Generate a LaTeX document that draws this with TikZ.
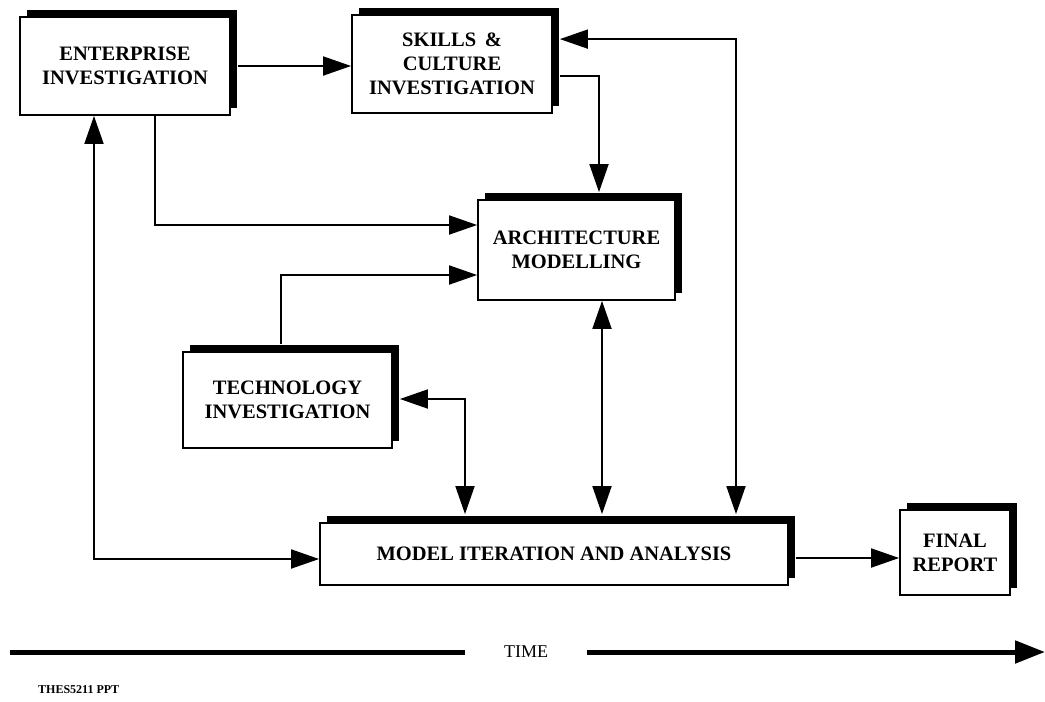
\documentclass[tikz,border=0pt]{standalone}
\usepackage{fontspec}
\setmainfont{Liberation Serif}
\usetikzlibrary{arrows.meta,calc,shadows}
\begin{document}
\begin{tikzpicture}[x=1pt,y=-1pt,
  box/.style={draw, line width=1.8pt, fill=white, align=center, inner sep=0pt,
    font=\bfseries\fontsize{20.5}{24}\selectfont,
    general shadow={fill=black, shadow xshift=7pt, shadow yshift=7pt}},
  head/.tip={Triangle[length=28pt,width=19pt]},
  link/.style={line width=1.8pt, -head},
  dlink/.style={line width=1.8pt, head-head},
  timeline/.style={line width=5pt},
]
\useasboundingbox (0,0) rectangle (1045,702);

% process boxes
\node[box, minimum width=210pt, minimum height=98pt] (ent) at (125,66) {ENTERPRISE\\INVESTIGATION};
\node[box, minimum width=200pt, minimum height=98pt] (skills) at (452,64) {SKILLS \,\&\\CULTURE\\INVESTIGATION};
\node[box, minimum width=197pt, minimum height=100pt] (arch) at (576.5,250) {ARCHITECTURE\\MODELLING};
\node[box, minimum width=209pt, minimum height=96pt] (tech) at (287.5,400) {TECHNOLOGY\\INVESTIGATION};
\node[box, minimum width=468pt, minimum height=62pt] (model) at (554,554) {MODEL ITERATION AND ANALYSIS};
\node[box, minimum width=110pt, minimum height=85pt] (final) at (955,552.5) {FINAL\\REPORT};

% flows between the boxes
\draw[link] ([xshift=7pt]ent.east) -- (skills.west |- ent.east);
\draw[dlink] ($(skills.north east)+(7,25)$) -| ($(model.north)+(182,-8)$);
\draw[link] ($(skills.north east)+(7,62)$) -| ($(arch.north)+(22.5,-7)$);
\draw[link] ($(ent.south)+(30,0)$) |- ($(arch.west)+(0,-25)$);
\draw[link] ($(tech.north)+(-6.5,-7)$) |- ($(arch.west)+(0,25)$);
\draw[dlink] ($(tech.east)+(7,-1)$) -| ($(model.north)+(-89,-8)$);
\draw[dlink] ($(arch.south)+(25.5,0)$) -- ($(model.north)+(48,-8)$);
\draw[dlink] ($(ent.south)+(-31,0)$) |- ($(model.west)+(0,5)$);
\draw[link] ($(model.east)+(7,4)$) -- ($(final.west)+(0,5.5)$);

% time axis
\node[font=\fontsize{18}{20}\selectfont, inner xsep=39pt, inner ysep=0pt] (time) at (526,652) {TIME};
\coordinate (tstart) at (10,652);
\coordinate (tend) at (1045,652);
\draw[timeline] (tstart) -- (time.west);
\draw[timeline, -{Triangle[length=30pt,width=22pt]}] (time.east) -- (tend);

\node[font=\bfseries\fontsize{12}{14}\selectfont, anchor=west, inner sep=0pt] (ref) at (38,690) {THES5211 PPT};
\end{tikzpicture}
\end{document}
